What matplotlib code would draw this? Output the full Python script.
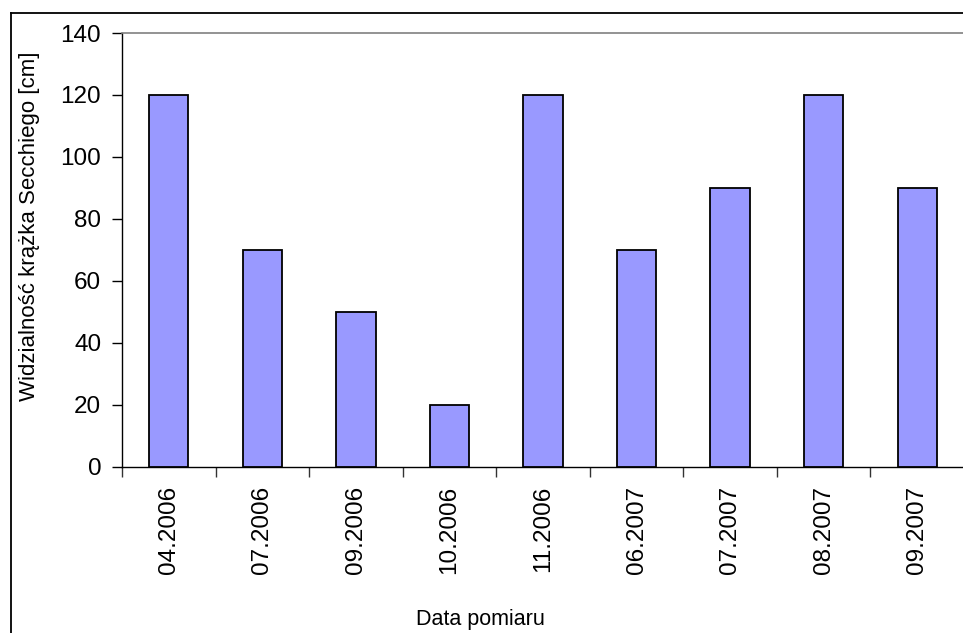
import matplotlib
matplotlib.use("Agg")
import matplotlib.pyplot as plt
from matplotlib.lines import Line2D
import numpy as np

plt.rcParams['font.family'] = ['Liberation Sans', 'DejaVu Sans']

dates = ["04.2006", "07.2006", "09.2006", "10.2006", "11.2006",
         "06.2007", "07.2007", "08.2007", "09.2007"]
secchi_cm = [120, 70, 50, 20, 120, 70, 90, 120, 90]
y_ticks = [0, 20, 40, 60, 80, 100, 120, 140]

W, H = 963, 633
fig = plt.figure(figsize=(W / 100, H / 100), dpi=100)
ax = fig.add_axes([122 / W, 1 - 466.5 / H, 842 / W, (466.5 - 33) / H])

x = np.arange(len(dates))
ax.bar(x, secchi_cm, width=0.42, color="#9999FF", edgecolor="black",
       linewidth=1.3, zorder=3)

ax.set_xlim(-0.5, len(dates) - 0.5)
ax.set_ylim(0, 140)
ax.set_yticks(y_ticks)
ax.set_yticklabels([str(v) for v in y_ticks], fontsize=17.5)
ax.tick_params(axis="y", direction="out", length=7, width=1, pad=8,
               colors="black")

# category labels centred under bars, tick marks on category boundaries
ax.set_xticks(x)
ax.set_xticklabels(dates, rotation=90, fontsize=17.5)
ax.tick_params(axis="x", length=0, pad=14)
ax.set_xticks(np.arange(-0.5, len(dates), 1.0), minor=True)
ax.tick_params(axis="x", which="minor", direction="out", length=7, width=1,
               colors="#333333")

for side in ("left", "bottom"):
    ax.spines[side].set_color("black")
    ax.spines[side].set_linewidth(1.0)
ax.spines["top"].set_color("#808080")
ax.spines["top"].set_linewidth(1.2)
ax.spines["right"].set_visible(False)

fig.text(30 / W, 1 - 226 / H, "Widzialność krążka Secchiego [cm]",
         rotation=90, ha="center", va="center", fontsize=16)
fig.text(480 / W, 1 - 619 / H, "Data pomiaru", ha="center", va="center",
         fontsize=15.5)

# chart area frame
fig.add_artist(Line2D([10.5 / W, 10.5 / W], [-0.1, 1 - 12.5 / H],
                      transform=fig.transFigure, color="black", lw=1.3))
fig.add_artist(Line2D([10.5 / W, 1.1], [1 - 12.5 / H, 1 - 12.5 / H],
                      transform=fig.transFigure, color="black", lw=1.3))

fig.savefig("out.png", dpi=100)
